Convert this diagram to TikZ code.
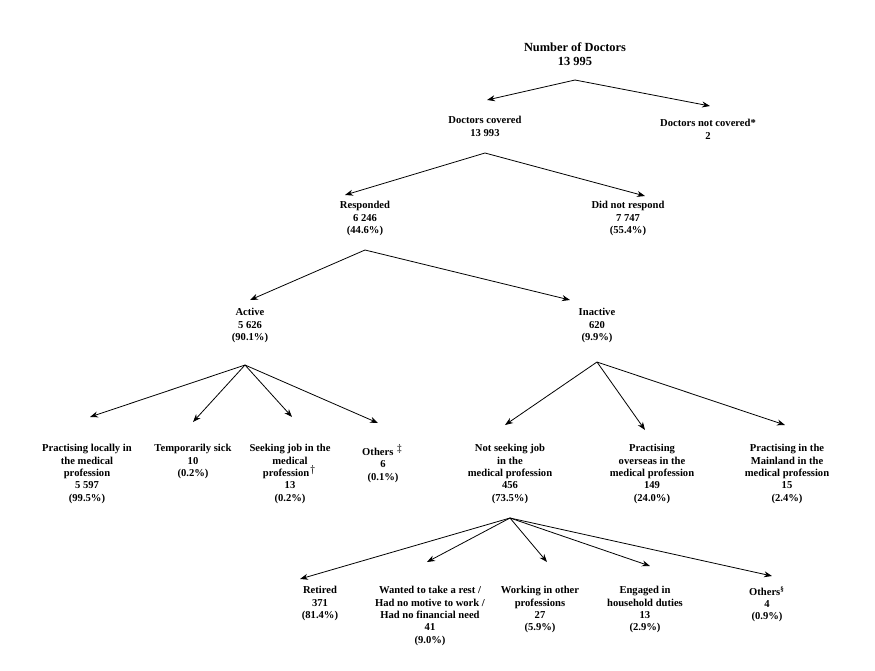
\documentclass[tikz,border=0pt]{standalone}
\usepackage{fontspec}
\setmainfont{Liberation Serif}
\usetikzlibrary{arrows.meta}
\newcommand{\sm}[1]{\textsuperscript{\fontsize{3.5}{4}\selectfont #1}}
\begin{document}
\begin{tikzpicture}[x=0.5pt,y=-0.5pt,
  box/.style={align=center,font=\bfseries\fontsize{5.3}{6.2}\selectfont,inner sep=0pt,anchor=north},
  ar/.style={-{Stealth[length=4pt,width=3pt]},line width=0.4pt}]
\useasboundingbox (0,0) rectangle (875,671);
\node[box,font=\bfseries\fontsize{6.2}{7}\selectfont] (top) at (575,42) {Number of Doctors\\13 995};
\node[box] (cov) at (485,116) {Doctors covered\\13 993};
\node[box] (ncov) at (708,119) {Doctors not covered*\\2};
\node[box] (resp) at (365,201) {Responded\\6 246\\(44.6\%)};
\node[box] (nresp) at (628,201) {Did not respond\\7 747\\(55.4\%)};
\node[box] (act) at (250,308) {Active\\5 626\\(90.1\%)};
\node[box] (inact) at (597,308) {Inactive\\620\\(9.9\%)};
\node[box] (loc) at (87,444) {Practising locally in\\the medical\\profession\\5 597\\(99.5\%)};
\node[box] (sick) at (193,444) {Temporarily sick\\10\\(0.2\%)};
\node[box] (seek) at (290,444) {Seeking job in the\\medical\\profession\sm{$\dagger$}\\13\\(0.2\%)};
\node[box] (oth1) at (383,444) {Others \sm{$\ddagger$}\\6\\(0.1\%)};
\node[box] (nseek) at (510,444) {Not seeking job\\in the\\medical profession\\456\\(73.5\%)};
\node[box] (over) at (652,444) {Practising\\overseas in the\\medical profession\\149\\(24.0\%)};
\node[box] (main) at (787,444) {Practising in the\\Mainland in the\\medical profession\\15\\(2.4\%)};
\node[box] (ret) at (320,586) {Retired\\371\\(81.4\%)};
\node[box] (rest) at (430,586) {Wanted to take a rest /\\Had no motive to work /\\Had no financial need\\41\\(9.0\%)};
\node[box] (work) at (540,586) {Working in other\\professions\\27\\(5.9\%)};
\node[box] (house) at (645,586) {Engaged in\\household duties\\13\\(2.9\%)};
\node[box] (oth2) at (767,586) {Others\sm{\S}\\4\\(0.9\%)};
\coordinate (c0) at (575,80);
\coordinate (c1) at (485,153);
\coordinate (c2) at (365,250);
\coordinate (c3) at (245,365);
\coordinate (c4) at (597,362);
\coordinate (c5) at (510,518);
\draw[ar] (c0) -- (487,100);
\draw[ar] (c0) -- (710,106);
\draw[ar] (c1) -- (345,195);
\draw[ar] (c1) -- (645,196);
\draw[ar] (c2) -- (250,300);
\draw[ar] (c2) -- (570,300);
\draw[ar] (c3) -- (90,417);
\draw[ar] (c3) -- (193,422);
\draw[ar] (c3) -- (292,417);
\draw[ar] (c3) -- (378,423);
\draw[ar] (c4) -- (505,425);
\draw[ar] (c4) -- (645,430);
\draw[ar] (c4) -- (785,425);
\draw[ar] (c5) -- (300,579);
\draw[ar] (c5) -- (427,562);
\draw[ar] (c5) -- (547,562);
\draw[ar] (c5) -- (650,566);
\draw[ar] (c5) -- (772,576);
\end{tikzpicture}
\end{document}
